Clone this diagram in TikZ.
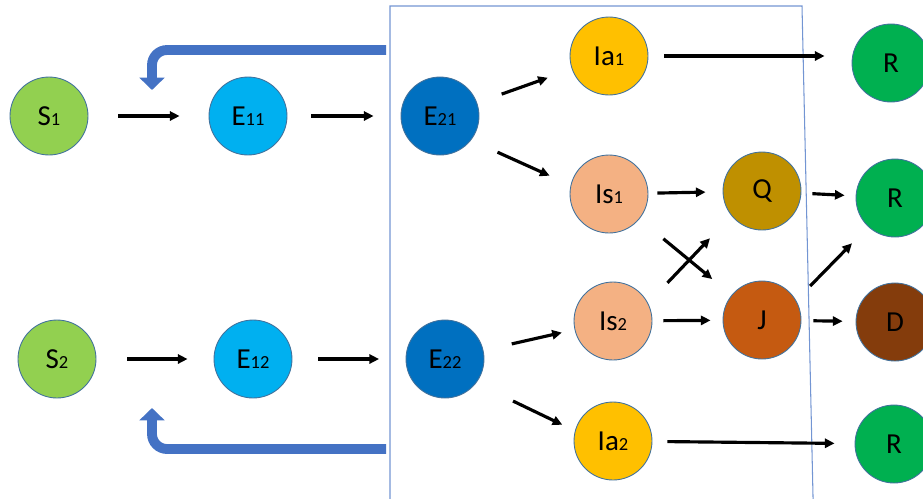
\documentclass[tikz,border=0pt]{standalone}
\usepackage{fontspec}
\setmainfont{Carlito}
\usetikzlibrary{arrows.meta}

\definecolor{sgreen}{HTML}{92D050}
\definecolor{elight}{HTML}{00B0F0}
\definecolor{edark}{HTML}{0070C0}
\definecolor{iayellow}{HTML}{FFC000}
\definecolor{ispeach}{HTML}{F4B183}
\definecolor{qgold}{HTML}{BF9000}
\definecolor{jorange}{HTML}{C55A11}
\definecolor{dbrown}{HTML}{843C0C}
\definecolor{rgreen}{HTML}{00B050}
\definecolor{ringblue}{HTML}{41719C}
\definecolor{fbblue}{HTML}{4472C4}

\begin{document}
\begin{tikzpicture}[x=0.02cm, y=-0.02cm, >={Triangle[length=5.5pt,width=5.2pt]},
	comp/.style={circle, draw=ringblue, line width=0.5pt, minimum size=1.56cm, inner sep=0pt, font=\fontsize{16.5}{18}\selectfont},
	flow/.style={->, line width=1.8pt},
	feedback/.style={-{Triangle[length=7pt,width=14pt]}, line width=5.6pt, fbblue, rounded corners=0.3cm},
	frame/.style={draw=fbblue!75, line width=0.6pt}]
			\useasboundingbox (0,0) rectangle (923,498);

			% Macro for a compartment circle.
			% Usage: \compartment{name}{x}{y}{colour}{label}
			\newcommand{\compartment}[5]{
				\node[comp, fill=#4] (#1) at (#2,#3) {#5};
			}
			\newcommand{\idx}[1]{{\fontsize{10.5}{12}\selectfont #1}}

			% Draw the box round the infected stages
			\draw[frame] (390,505) -- (390,6) -- (802,6) -- (813.2,505);

			% Patch 1
			\compartment{S1}{49}{116}{sgreen}{S\idx{1}}
			\compartment{E11}{248}{116}{elight}{E\idx{11}}
			\compartment{E21}{440}{116}{edark}{E\idx{21}}
			\compartment{Ia1}{609}{56}{iayellow}{Ia\idx{1}}
			\compartment{Is1}{609}{194}{ispeach}{Is\idx{1}}

			% Patch 2
			\compartment{S2}{57}{359}{sgreen}{S\idx{2}}
			\compartment{E12}{253}{359}{elight}{E\idx{12}}
			\compartment{E22}{445}{359}{edark}{E\idx{22}}
			\compartment{Is2}{613}{321}{ispeach}{Is\idx{2}}
			\compartment{Ia2}{613}{441}{iayellow}{Ia\idx{2}}

			% Quarantine, isolation and outcomes
			\compartment{Q}{762}{191}{qgold}{Q}
			\compartment{J}{762}{320}{jorange}{J}
			\compartment{R1}{891}{63}{rgreen}{R}
			\compartment{R2}{895}{198}{rgreen}{R}
			\compartment{D}{895}{322}{dbrown}{D}
			\compartment{R3}{894}{444}{rgreen}{R}

			% Transitions
			\draw[flow, shorten <=0.6cm, shorten >=0.58cm] (S1) -- (E11);
			\draw[flow, shorten <=0.48cm, shorten >=0.54cm] (E11) -- (E21);
			\draw[flow, shorten <=0.52cm, shorten >=0.51cm] (E21) -- (Ia1);
			\draw[flow, shorten <=0.58cm, shorten >=0.46cm] (E21.-38) -- (Is1.167);
			\draw[flow, shorten <=0.32cm, shorten >=0.54cm] (Ia1.east) -- (Ia1.east -| R1.west);
			\draw[flow, shorten <=0.18cm, shorten >=0.34cm] (Is1) -- (Q);
			\draw[flow, shorten <=0.22cm, shorten >=0.22cm] (Q) -- (R2);
			\draw[flow, shorten <=0.62cm, shorten >=0.5cm] (Is1) -- (J);
			\draw[flow, shorten <=0.56cm, shorten >=0.62cm] (Is2.27) -- (Q.-141);
			\draw[flow, shorten <=0.22cm, shorten >=0.24cm] (Is2) -- (J);
			\draw[flow, shorten <=0.4cm, shorten >=0.46cm] (J.30) -- (R2.-133);
			\draw[flow, shorten <=0.24cm, shorten >=0.26cm] (J) -- (D);
			\draw[flow, shorten <=0.62cm, shorten >=0.52cm] (S2) -- (E12);
			\draw[flow, shorten <=0.52cm, shorten >=0.53cm] (E12) -- (E22);
			\draw[flow, shorten <=0.58cm, shorten >=0.26cm] (E22) -- (Is2);
			\draw[flow, shorten <=0.82cm, shorten >=0.28cm] (E22.-38) -- (Ia2.165);
			\draw[flow, shorten <=0.3cm, shorten >=0.4cm] (Ia2) -- (R3);

			% Feedback into the exposed stage
			\coordinate (fbtop) at (386,50);
			\coordinate (fbtoptip) at (152,90);
			\draw[feedback] (fbtop) -| (fbtoptip);
			\coordinate (fbbot) at (386,449);
			\coordinate (fbbottip) at (152,408);
			\draw[feedback] (fbbot) -| (fbbottip);
		\end{tikzpicture}
\end{document}
